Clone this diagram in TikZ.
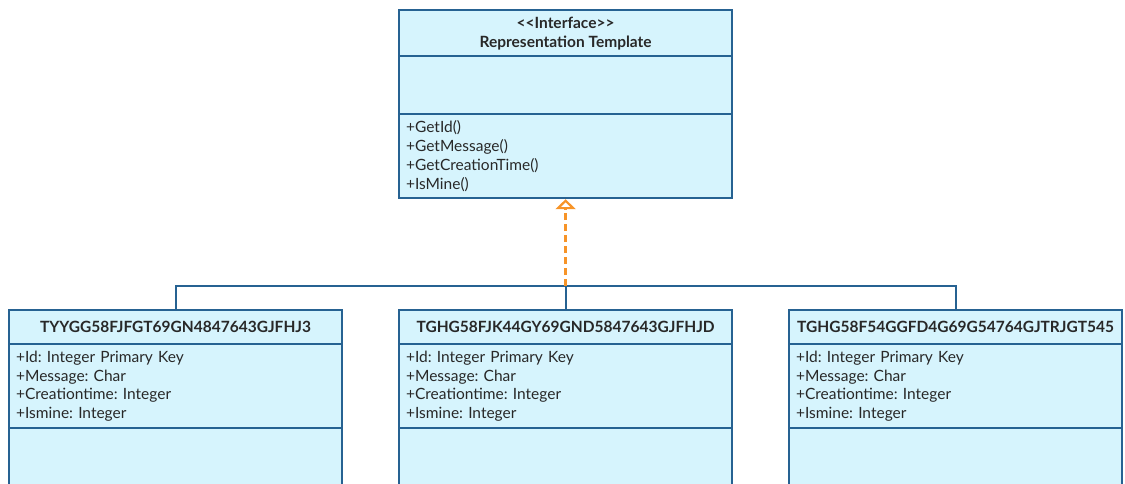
\documentclass[tikz,border=0pt]{standalone}
\usepackage{fontspec}
\setmainfont{Lato}
\usetikzlibrary{arrows.meta}

\definecolor{umlfill}{RGB}{214,244,253}
\definecolor{umlline}{RGB}{38,98,146}
\definecolor{umltext}{RGB}{40,40,40}
\definecolor{realizeorange}{RGB}{247,148,40}

\tikzset{
  part/.style={rectangle, draw=umlline, fill=umlfill, line width=2.2pt,
    anchor=north west, minimum width=333pt, inner sep=0pt, text=umltext},
  titlepart/.style={part, font=\fontsize{15.5}{19}\selectfont\bfseries, align=center},
  listpart/.style={part, font=\fontsize{15.5}{18.7}\selectfont, align=left,
    text width=319pt, inner xsep=7pt},
  conn/.style={draw=umlline, line width=2.2pt},
  realize/.style={color=realizeorange, line width=2.4pt, dash pattern=on 7pt off 4pt,
    -{Triangle[open, width=20pt, length=10pt, line width=2.2pt]}}
}

\begin{document}
\frenchspacing
\begin{tikzpicture}[x=1pt, y=-1pt]
  \useasboundingbox (0,0) rectangle (1125,483);
  \clip (0,0) rectangle (1125,483);

  % interface
  \node[titlepart, minimum height=46pt] (ihead) at (398,9)
    {<{}<Interface>{}>\\Representation Template};
  \node[part, minimum height=58pt] (iattr) at (398,55) {};
  \node[listpart, minimum height=84pt] (iops) at (398,113)
    {+GetId()\\+GetMessage()\\+GetCreationTime()\\+IsMine()};

  % implementing classes
  \foreach \x/\n/\name in {8/1/TYYGG58FJFGT69GN4847643GJFHJ3,
                            398/2/TGHG58FJK44GY69GND5847643GJFHJD,
                            788/3/TGHG58F54GGFD4G69G54764GJTRJGT545} {
    \node[titlepart, minimum height=34pt] (t\n) at (\x,309) {\name};
    \node[listpart, minimum height=84pt] (a\n) at (\x,343)
      {+Id: Integer Primary Key\\+Message: Char\\+Creationtime: Integer\\+Ismine: Integer};
    \node[part, minimum height=80pt] (o\n) at (\x,427) {};
  }

  % connectors
  \coordinate (bus) at (564.5,286);
  \draw[conn] (t1.north) -- (t1.north |- bus) -- (t3.north |- bus) -- (t3.north);
  \draw[conn] (t2.north) -- (t2.north |- bus);
  \draw[realize] (t2.north |- bus) -- (iops.south);
\end{tikzpicture}
\end{document}
